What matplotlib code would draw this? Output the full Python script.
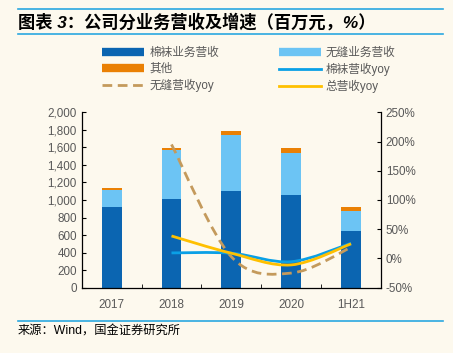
import numpy as np
import matplotlib.pyplot as plt
from matplotlib.path import Path
from matplotlib.patches import PathPatch
from matplotlib.lines import Line2D
from matplotlib.ticker import FuncFormatter

plt.rcParams['font.family'] = ['Liberation Sans', 'Noto Sans CJK SC']

# 数据
categories = ['2017', '2018', '2019', '2020', '1H21']
socks_rev = [920, 1017, 1100, 1055, 645]      # 棉袜业务营收
seamless_rev = [195, 557, 645, 485, 235]      # 无缝业务营收
other_rev = [22, 23, 45, 57, 38]              # 其他
socks_yoy = [9.5, 9.0, -5.5, 26.0]            # 棉袜营收yoy (2018起)
seamless_yoy = [195.0, 3.0, -25.0, 19.0]      # 无缝营收yoy
total_yoy = [38.5, 9.0, -11.0, 25.0]          # 总营收yoy

bg = '#FDF9EE'
c_dark = '#0B65B1'
c_light = '#6CC4F4'
c_orange = '#EA8004'
c_blue_line = '#0AA0E6'
c_dash = '#C49A5C'
c_yellow = '#FFC000'
c_text = '#595959'
c_rule = '#2AA8E0'

fig = plt.figure(figsize=(4.53, 3.53), dpi=100, facecolor=bg)
W, H = 453, 353

# 标题与分隔线
fig.add_artist(Line2D([18 / W, 443 / W], [1 - 9 / H, 1 - 9 / H], color=c_rule, lw=1.2))
fig.add_artist(Line2D([18 / W, 443 / W], [1 - 34 / H, 1 - 34 / H], color=c_rule, lw=1.2))
fig.add_artist(Line2D([18 / W, 443 / W], [1 - 320.5 / H, 1 - 320.5 / H], color=c_rule, lw=1.2))
fig.text(18 / W, 1 - 22 / H, '图表 3：公司分业务营收及增速（百万元，%）', fontsize=12.4,
         fontweight='bold', style='italic', va='center', ha='left', color='black')
fig.text(18 / W, 1 - 332 / H, '来源：Wind，国金证券研究所', fontsize=8.8,
         va='center', ha='left', color='black')

ax = fig.add_axes([81.7 / W, 1 - 287.7 / H, (381 - 81.7) / W, (287.7 - 112.3) / H])
ax.set_facecolor('none')
x = np.arange(len(categories))
w = 0.33
bottom2 = np.array(socks_rev)
bottom3 = bottom2 + np.array(seamless_rev)
ax.bar(x, socks_rev, w, color=c_dark, zorder=2)
ax.bar(x, seamless_rev, w, bottom=bottom2, color=c_light, zorder=2)
ax.bar(x, other_rev, w, bottom=bottom3, color=c_orange, zorder=2)

ax.set_xlim(-0.5, 4.5)
ax.set_ylim(0, 2000)
ax.set_yticks(np.arange(0, 2001, 200))
ax.yaxis.set_major_formatter(FuncFormatter(lambda v, p: f'{int(v):,}'))
ax.set_xticks(x)
ax.set_xticklabels(categories)
ax.set_xticks(np.arange(-0.5, 4.6, 1), minor=True)
ax.tick_params(axis='x', which='major', length=0, pad=8)
ax.tick_params(axis='x', which='minor', direction='in', length=3, color='black')
ax.tick_params(axis='y', direction='in', length=3, color='black')
ax.tick_params(labelsize=8.4, labelcolor=c_text)
for s in ['top', 'right']:
    ax.spines[s].set_visible(False)
for s in ['left', 'bottom']:
    ax.spines[s].set_color('black')
    ax.spines[s].set_linewidth(0.9)

ax2 = ax.twinx()
ax2.set_ylim(-50, 250)
ax2.set_yticks(np.arange(-50, 251, 50))
ax2.yaxis.set_major_formatter(FuncFormatter(lambda v, p: f'{int(v)}%'))
ax2.tick_params(axis='y', direction='in', length=3, color='black', labelsize=8.4,
                labelcolor=c_text)
for s in ['top', 'left', 'bottom']:
    ax2.spines[s].set_visible(False)
ax2.spines['right'].set_color('black')
ax2.spines['right'].set_linewidth(0.9)


def smooth_path(xs, ys):
    pts = np.column_stack([xs, ys]).astype(float)
    ext = np.vstack([pts[0], pts, pts[-1]])
    verts = [pts[0]]
    codes = [Path.MOVETO]
    for i in range(len(pts) - 1):
        p0, p1, p2, p3 = ext[i], ext[i + 1], ext[i + 2], ext[i + 3]
        c1 = p1 + (p2 - p0) / 6
        c2 = p2 - (p3 - p1) / 6
        verts += [c1, c2, p2]
        codes += [Path.CURVE4] * 3
    return Path(verts, codes)


xl = x[1:]
ax2.add_patch(PathPatch(smooth_path(xl, seamless_yoy), fill=False, ec=c_dash, lw=2,
                        ls=(0, (3.5, 2)), zorder=3))
ax2.add_patch(PathPatch(smooth_path(xl, socks_yoy), fill=False, ec=c_blue_line, lw=2,
                        zorder=4))
ax2.add_patch(PathPatch(smooth_path(xl, total_yoy), fill=False, ec=c_yellow, lw=2,
                        zorder=5))

handles = [
    Line2D([], [], color=c_dark, lw=6, solid_capstyle='butt'),
    Line2D([], [], color=c_orange, lw=6, solid_capstyle='butt'),
    Line2D([], [], color=c_dash, lw=2, ls=(0, (3.5, 2))),
    Line2D([], [], color=c_light, lw=6, solid_capstyle='butt'),
    Line2D([], [], color=c_blue_line, lw=2),
    Line2D([], [], color=c_yellow, lw=2),
]
labels = ['棉袜业务营收', '其他', '无缝营收yoy', '无缝业务营收', '棉袜营收yoy', '总营收yoy']
leg = fig.legend(handles, labels, ncol=2, loc='upper left',
                 bbox_to_anchor=(102 / W, 1 - 47 / H), frameon=False, fontsize=8.4,
                 handlelength=3.6, handletextpad=0.45, columnspacing=5.1,
                 labelspacing=0.32, borderpad=0, borderaxespad=0)
for t in leg.get_texts():
    t.set_color(c_text)

fig.savefig('out.png', dpi=100, facecolor=bg)
